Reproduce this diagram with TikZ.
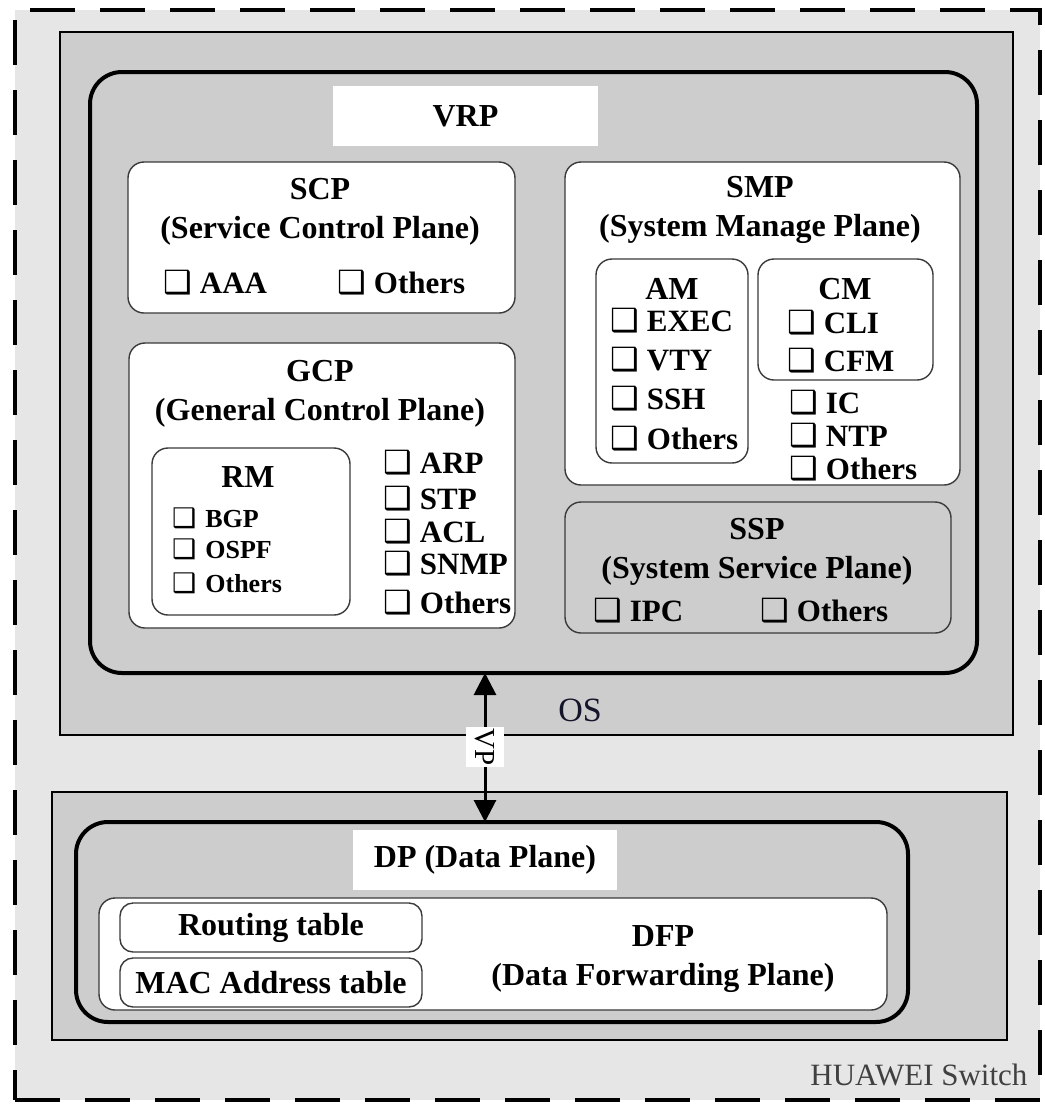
\documentclass[tikz,border=0pt]{standalone}
\usepackage{fontspec}
\setmainfont{Liberation Serif}
\newfontfamily\symfont{DejaVu Sans}
\usetikzlibrary{arrows.meta}
\definecolor{swgray}{HTML}{E6E6E6}
\definecolor{osgray}{HTML}{CDCDCD}
\definecolor{edgegray}{HTML}{3A3A3A}
\definecolor{osink}{HTML}{14142A}
\newcommand{\chk}{{\symfont\fontsize{32}{32}\selectfont ❑}\hspace{8pt}}
\newcommand{\chks}{{\symfont\fontsize{27}{27}\selectfont ❑}\hspace{9pt}}

\begin{document}
\begin{tikzpicture}[x=1pt, y=-1pt,
    box/.style={inner sep=0pt, outer sep=0pt},
    swbox/.style={box, draw, line width=4pt, dash pattern=on 45pt off 25pt, fill=swgray},
    osbox/.style={box, draw, line width=1.6pt, fill=osgray},
    vrpbox/.style={box, draw, line width=4pt, rounded corners=32pt, fill=osgray},
    plane/.style={box, draw=edgegray, line width=1.4pt, rounded corners=16pt, fill=white},
    graypl/.style={plane, fill=osgray},
    tag/.style={box, fill=white, font=\bfseries\fontsize{32}{36}\selectfont},
    title/.style={align=center, inner sep=0pt, font=\bfseries\fontsize{32}{39}\selectfont},
    item/.style={anchor=west, inner sep=0pt, text height=22pt, text depth=0pt,
                 font=\bfseries\fontsize{31}{36}\selectfont},
    small/.style={item, text height=19pt, font=\bfseries\fontsize{26}{30}\selectfont}]
  \useasboundingbox (0,0) rectangle (1045,1104);
  % switch, OS and VRP frames
  \node[swbox, minimum width=1025pt, minimum height=1090pt] (sw) at (527.5,555) {};
  \node[osbox, minimum width=953pt, minimum height=703pt] (os) at (536.5,383.5) {};
  \node[vrpbox, minimum width=887pt, minimum height=601pt] (vrp) at (533.5,372.5) {};
  \node[tag, minimum width=265pt, minimum height=60pt] (vrptag) at (465.5,116) {VRP};

  % SCP
  \node[plane, minimum width=387pt, minimum height=151pt] (scp) at (321.5,237.5) {};
  \node[title] (scpt) at (320,212) {SCP\\(Service Control Plane)};
  \node[item] (aaa) at (163,282) {\chk AAA};
  \node[item] (scpo) at (337,282) {\chk Others};

  % GCP
  \node[plane, minimum width=386pt, minimum height=285pt] (gcp) at (322,485.5) {};
  \node[title] (gcpt) at (320,394) {GCP\\(General Control Plane)};
  \node[plane, minimum width=198pt, minimum height=167pt] (rm) at (251,531.5) {};
  \node[title] (rmt) at (248,477) {RM};
  \node[small] (bgp) at (172,518) {\chks BGP};
  \node[small] (ospf) at (172,549) {\chks OSPF};
  \node[small] (rmo) at (172,583) {\chks Others};
  \node[item] (arp) at (383,462) {\chk ARP};
  \node[item] (stp) at (383,498) {\chk STP};
  \node[item] (acl) at (383,531) {\chk ACL};
  \node[item] (snmp) at (383,563) {\chk SNMP};
  \node[item] (gcpo) at (383,602) {\chk Others};

  % SMP
  \node[plane, minimum width=395pt, minimum height=323pt] (smp) at (762.5,323.5) {};
  \node[title] (smpt) at (760,210) {SMP\\(System Manage Plane)};
  \node[plane, minimum width=152pt, minimum height=204pt] (am) at (672,361) {};
  \node[title] (amt) at (672,289) {AM};
  \node[item] (exec) at (610,320) {\chk EXEC};
  \node[item] (vty) at (610,359) {\chk VTY};
  \node[item] (ssh) at (610,398) {\chk SSH};
  \node[item] (amo) at (610,438) {\chk Others};
  \node[plane, minimum width=175pt, minimum height=121pt] (cm) at (845.5,319.5) {};
  \node[title] (cmt) at (845,289) {CM};
  \node[item] (cli) at (787,322) {\chk CLI};
  \node[item] (cfm) at (787,360) {\chk CFM};
  \node[item] (ic) at (789,402) {\chk IC};
  \node[item] (ntp) at (789,435) {\chk NTP};
  \node[item] (smpo) at (789,468) {\chk Others};

  % SSP
  \node[graypl, minimum width=386pt, minimum height=131pt] (ssp) at (758,567.5) {};
  \node[title] (sspt) at (757,552) {SSP\\(System Service Plane)};
  \node[item] (ipc) at (593,610) {\chk IPC};
  \node[item] (sspo) at (760,610) {\chk Others};

  \node[font=\fontsize{34}{36}\selectfont, text=osink] (ostxt) at (580,710) {OS};

  % data plane
  \node[osbox, minimum width=955pt, minimum height=248pt] (dpos) at (529.5,916) {};
  \node[vrpbox, minimum width=832pt, minimum height=200pt] (dp) at (492,922) {};
  \node[tag, minimum width=264pt, minimum height=60pt] (dptag) at (485,860) {DP (Data Plane)};
  \node[plane, minimum width=788pt, minimum height=112pt] (dfp) at (493,954) {};
  \node[title] (dfpt) at (663,959) {DFP\\(Data Forwarding Plane)};
  \node[plane, rounded corners=13pt, minimum width=302pt, minimum height=49pt,
        font=\bfseries\fontsize{32}{36}\selectfont] (rt) at (271,927.5) {Routing table};
  \node[plane, rounded corners=13pt, minimum width=302pt, minimum height=49pt,
        font=\bfseries\fontsize{32}{36}\selectfont] (mac) at (271,982.5) {MAC Address table};

  % VP link
  \coordinate (vpmid) at (485,747);
  \draw[line width=3pt, {Triangle[length=22pt,width=22pt]}-{Triangle[length=22pt,width=22pt]}]
    (vrp.south -| vpmid) -- (dp.north -| vpmid);
  \node[box, fill=white, rotate=-90, minimum width=40pt, minimum height=38pt,
        font=\fontsize{29}{30}\selectfont] (vp) at (vpmid) {VP};

  \node[anchor=east, text=black!75, font=\fontsize{31}{32}\selectfont] (hw) at (1031,1075) {HUAWEI Switch};
\end{tikzpicture}
\end{document}
